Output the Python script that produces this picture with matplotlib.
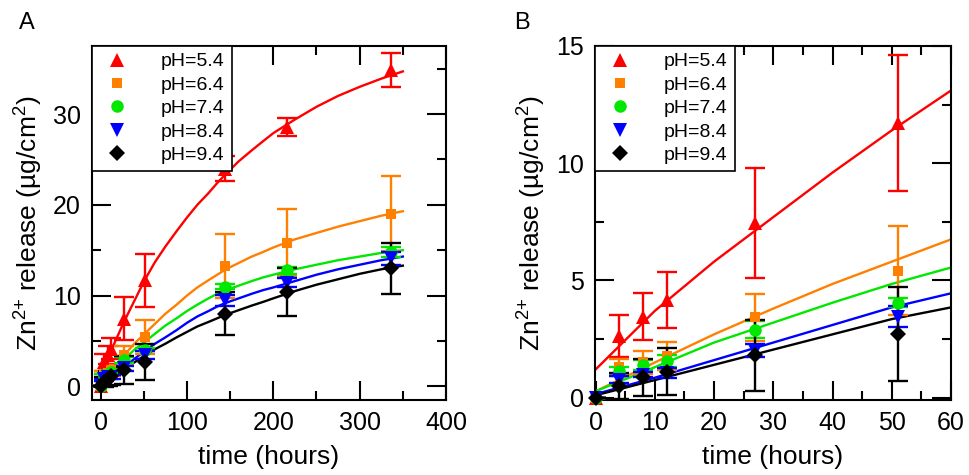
import matplotlib
matplotlib.use("Agg")
from matplotlib import pyplot as plt
from matplotlib.lines import Line2D
from matplotlib.ticker import MultipleLocator

plt.rcParams['font.family'] = ['Liberation Sans', 'DejaVu Sans']
plt.rcParams['mathtext.fontset'] = 'custom'
plt.rcParams['mathtext.rm'] = 'Liberation Sans'
plt.rcParams['mathtext.it'] = 'Liberation Sans:italic'

labels = ['pH=5.4', 'pH=6.4', 'pH=7.4', 'pH=8.4', 'pH=9.4']
colors = ['#ff0000', '#ff8000', '#00e800', '#0000ff', '#000000']
markers = ['^', 's', 'o', 'v', 'D']
msizes = [10, 7.5, 9, 10, 8]

# measured release, hours
times = [0, 4, 8, 12, 27, 51, 144, 216, 336]
ph54 = [0, 2.64, 3.45, 4.17, 7.45, 11.7, 24.0, 28.6, 34.85]
ph54_err = [0, 0.9, 1.0, 1.2, 2.35, 2.9, 1.4, 1.0, 1.85]
ph64 = [0, 1.3, 1.5, 1.76, 3.43, 5.42, 13.26, 15.84, 19.04]
ph64_err = [0, 0.35, 0.5, 0.6, 1.0, 1.9, 3.5, 3.65, 4.15]
ph74 = [0, 1.12, 1.4, 1.55, 2.9, 4.05, 11.0, 12.8, 14.8]
ph74_err = [0, 0.2, 0.2, 0.25, 0.35, 0.2, 0.3, 0.4, 0.6]
ph84 = [0, 0.77, 0.98, 1.05, 2.0, 3.46, 9.5, 11.4, 14.1]
ph84_err = [0, 0.15, 0.12, 0.2, 0.28, 0.45, 0.6, 0.5, 0.7]
ph94 = [0, 0.5, 0.86, 1.1, 1.8, 2.71, 8.0, 10.4, 13.0]
ph94_err = [0, 0.55, 0.8, 1.0, 1.5, 2.0, 2.35, 2.6, 2.85]

# fitted curves, panel A (long term)
fit_t_a = [0, 12, 27, 40, 51, 63, 75, 88, 100, 112, 125, 135, 145, 160, 175, 188,
           200, 225, 250, 275, 300, 325, 350]
fit54_a = [1.0, 3.9, 7.1, 9.6, 11.7, 13.7, 15.4, 17.1, 18.6, 20.0, 21.3, 22.4, 23.4,
           24.8, 26.0, 27.0, 27.9, 29.4, 30.8, 32.0, 33.0, 33.9, 34.7]
fit64_a = [0.25, 1.6, 3.4, 4.8, 5.8, 6.9, 8.0, 9.0, 10.0, 10.9, 11.7, 12.3, 12.9,
           13.6, 14.3, 14.8, 15.3, 16.2, 16.9, 17.6, 18.2, 18.8, 19.3]
fit74_a = [0.25, 1.5, 3.0, 4.1, 4.9, 5.8, 6.7, 7.5, 8.3, 9.0, 9.7, 10.2, 10.6,
           11.1, 11.6, 12.0, 12.3, 12.9, 13.4, 13.9, 14.3, 14.7, 15.0]
fit84_a = [0.2, 1.0, 2.1, 3.1, 3.9, 4.7, 5.4, 6.2, 7.0, 7.7, 8.3, 8.8, 9.2,
           9.7, 10.2, 10.6, 10.9, 11.6, 12.3, 12.9, 13.4, 13.9, 14.3]
fit94_a = [0.1, 0.85, 1.9, 2.7, 3.4, 4.1, 4.7, 5.4, 6.0, 6.6, 7.1, 7.5, 7.9,
           8.4, 8.9, 9.3, 9.7, 10.5, 11.2, 11.8, 12.4, 12.9, 13.3]

# fitted curves, panel B (first 60 h)
fit_t_b = [0, 10, 20, 30, 40, 50, 60]
fit54_b = [1.2, 3.7, 5.8, 7.7, 9.6, 11.4, 13.1]
fit64_b = [0.27, 1.5, 2.7, 3.8, 4.85, 5.8, 6.75]
fit74_b = [0.27, 1.3, 2.35, 3.2, 4.05, 4.85, 5.55]
fit84_b = [0.15, 0.85, 1.6, 2.35, 3.1, 3.85, 4.45]
fit94_b = [0.1, 0.75, 1.4, 2.05, 2.7, 3.35, 3.85]

values = [ph54, ph64, ph74, ph84, ph94]
errors = [ph54_err, ph64_err, ph74_err, ph84_err, ph94_err]
fits_a = [fit54_a, fit64_a, fit74_a, fit84_a, fit94_a]
fits_b = [fit54_b, fit64_b, fit74_b, fit84_b, fit94_b]


def draw_panel(ax, n_points, fit_t, fits, xlim, ylim, xmaj, xmin, ymaj, ymin):
    for i in range(5):
        ax.plot(fit_t, fits[i], color=colors[i], lw=1.7, zorder=2)
    for i in range(5):
        ax.errorbar(times[:n_points], values[i][:n_points], yerr=errors[i][:n_points],
                    fmt='none', ecolor=colors[i], elinewidth=1.7, capsize=7.2,
                    capthick=1.7, zorder=3)
        ax.plot(times[:n_points], values[i][:n_points], ls='none', marker=markers[i],
                color=colors[i], ms=msizes[i], mew=0, zorder=4, clip_on=False)
    ax.set_xlim(*xlim)
    ax.set_ylim(*ylim)
    ax.xaxis.set_major_locator(MultipleLocator(xmaj))
    ax.xaxis.set_minor_locator(MultipleLocator(xmin))
    ax.yaxis.set_major_locator(MultipleLocator(ymaj))
    ax.yaxis.set_minor_locator(MultipleLocator(ymin))
    ax.tick_params(which='both', direction='in', top=True, right=True, width=1.5)
    ax.tick_params(which='major', length=14, labelsize=18, pad=8)
    ax.tick_params(which='minor', length=6.5)
    for s in ax.spines.values():
        s.set_linewidth(1.5)
    ax.set_xlabel('time (hours)', fontsize=19, labelpad=7)
    ax.set_ylabel('Zn$^{2{+}}$ release (µg/cm$^2$)', fontsize=19, labelpad=6)

    handles = [Line2D([], [], ls='none', marker=markers[i], color=colors[i],
                      ms=msizes[i], mew=0) for i in range(5)]
    leg = ax.legend(handles, labels, loc='upper left', bbox_to_anchor=(0, 1),
                    borderaxespad=0, fontsize=14, fancybox=False, framealpha=1,
                    edgecolor='black', handlelength=1.9, handletextpad=1.3,
                    borderpad=0.35, labelspacing=0.3)
    leg.get_frame().set_linewidth(1.2)
    leg.set_zorder(5)


fig = plt.figure(figsize=(9.69, 4.75), dpi=100)
ax_a = fig.add_axes([0.0949, 0.1579, 0.3654, 0.7453])
ax_b = fig.add_axes([0.6140, 0.1579, 0.3674, 0.7453])

draw_panel(ax_a, len(times), fit_t_a, fits_a, (-10, 400), (-1.5, 37.5), 100, 50, 10, 5)
draw_panel(ax_b, 6, fit_t_b, fits_b, (-0.1, 60), (-0.1, 15), 10, 5, 5, 2.5)

fig.text(0.028, 0.952, 'A', fontsize=17, ha='center', va='center')
fig.text(0.539, 0.952, 'B', fontsize=17, ha='center', va='center')

fig.savefig('out.png', dpi=100)
plt.close(fig)
